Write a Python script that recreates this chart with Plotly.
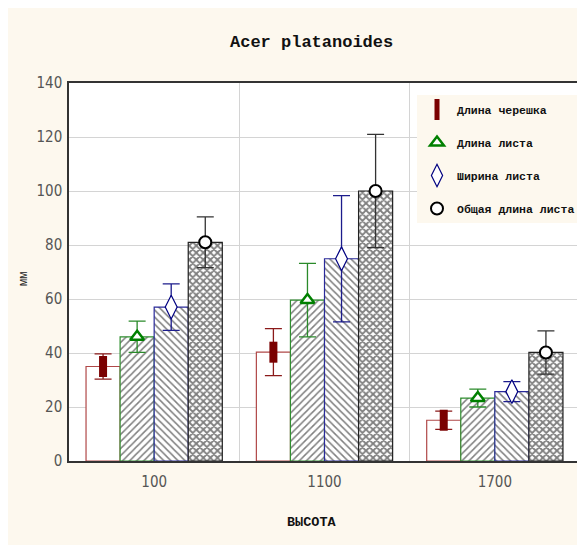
import plotly.graph_objects as go

heights = ["100", "1100", "1700"]

series_names = ["Длина черешка", "Длина листа", "Ширина листа", "Общая длина листа"]
petiole_len = [35.0, 40.3, 15.1]
petiole_err = [4.7, 8.7, 3.4]
leaf_len = [46.0, 59.6, 23.3]
leaf_len_err = [5.8, 13.6, 3.3]
leaf_width = [57.0, 74.9, 25.7]
leaf_width_err = [8.6, 23.4, 3.7]
total_len = [81.0, 100.0, 40.2]
total_len_err = [9.4, 21.0, 8.0]

y_ticks = [0, 20, 40, 60, 80, 100, 120, 140]

values = [petiole_len, leaf_len, leaf_width, total_len]
errors = [petiole_err, leaf_len_err, leaf_width_err, total_len_err]

bar_line_colors = ["#b04848", "#2f8f2f", "#2a2a9a", "#222222"]
err_colors = ["#8b1a1a", "#2a8a2a", "#1c1c8c", "#333333"]
patterns = ["", "/", "\\", "x"]
pat_sizes = [8, 5, 5, 5]
pat_sol = [0.2, 0.3, 0.3, 0.6]

marker_styles = [
    dict(symbol="line-ns-open", size=15, color="#7a0000", line=dict(color="#7a0000", width=8)),
    dict(symbol="triangle-up", size=12, color="white", line=dict(color="#008000", width=2.5)),
    dict(symbol="diamond-tall", size=17, color="white", line=dict(color="#000080", width=1.2)),
    dict(symbol="circle", size=12, color="white", line=dict(color="#000000", width=2)),
]

fig = go.Figure()
groups = ["a", "b", "c", "d"]
for i in range(4):
    fig.add_trace(go.Bar(
        x=heights, y=values[i], name=series_names[i],
        offsetgroup=groups[i], showlegend=False,
        marker=dict(color="white",
                    line=dict(color=bar_line_colors[i], width=1.2),
                    pattern=dict(shape=patterns[i], fgcolor="#000000", bgcolor="white",
                                 size=pat_sizes[i], solidity=pat_sol[i])),
    ))
for i in range(4):
    fig.add_trace(go.Scatter(
        x=heights, y=values[i], name=series_names[i], mode="markers",
        offsetgroup=groups[i], legendgroup=groups[i],
        marker=marker_styles[i],
        error_y=dict(type="data", array=errors[i], visible=True,
                     color=err_colors[i], thickness=1.3, width=8.5),
    ))

# page body has an 8px margin; screen coords = figure coords + 8
OFF = 8
W, H = 585, 545
L, T = 69 - OFF, 83 - OFF
R = W - (580 - OFF)
B = H - (461 - OFF)
pw = W - L - R
ph = H - T - B


def px(x):
    return (x - OFF - L) / pw


def py(y):
    return (H - B - (y - OFF)) / ph


cream = "#fdf8ee"
fig.update_layout(
    width=W, height=H,
    margin=dict(l=L, r=R, t=T, b=B, autoexpand=False),
    paper_bgcolor=cream, plot_bgcolor="white",
    barmode="group", bargap=0.2, bargroupgap=0,
    scattermode="group", scattergap=0.2,
    showlegend=True,
    legend=dict(x=px(417), y=py(95), xanchor="left", yanchor="top",
                bgcolor=cream, borderwidth=0,
                traceorder="grouped", tracegroupgap=14,
                font=dict(family="Liberation Mono, Courier New, monospace", size=11.5,
                          color="#111111", weight="bold")),
    annotations=[
        dict(text="<b>Acer platanoides</b>", xref="paper", yref="paper", x=px(311), y=py(42),
             showarrow=False, xanchor="center", yanchor="middle",
             font=dict(family="Liberation Mono, Courier New, monospace", size=17, color="#111111")),
        dict(text="<b>ВЫСОТА</b>", xref="paper", yref="paper", x=px(312), y=py(522),
             showarrow=False, xanchor="center", yanchor="middle",
             font=dict(family="Liberation Mono, Courier New, monospace", size=13.5, color="#111111")),
        dict(text="мм", xref="paper", yref="paper", x=px(24), y=py(279), textangle=-90,
             showarrow=False, xanchor="center", yanchor="middle",
             font=dict(family="Liberation Mono, Courier New, monospace", size=12, color="#222222")),
    ],
)

tick_font = dict(family="Liberation Sans Narrow, DejaVu Sans Condensed, Liberation Sans, sans-serif",
                 size=15, color="#555555")
fig.update_xaxes(
    type="category", tickson="boundaries", showgrid=True, gridcolor="#d4d4d4", gridwidth=1,
    showline=True, linecolor="#333333", linewidth=1.5, mirror=True, automargin=False,
    ticks="", tickfont=tick_font, ticklabelstandoff=6,
)
fig.update_yaxes(
    range=[0, 140], tickvals=y_ticks, showgrid=True, gridcolor="#d4d4d4", gridwidth=1,
    showline=True, linecolor="#333333", linewidth=1.5, mirror=True, zeroline=False,
    automargin=False, ticks="", tickfont=tick_font, ticklabelstandoff=2,
)

fig.write_html("out.html")
